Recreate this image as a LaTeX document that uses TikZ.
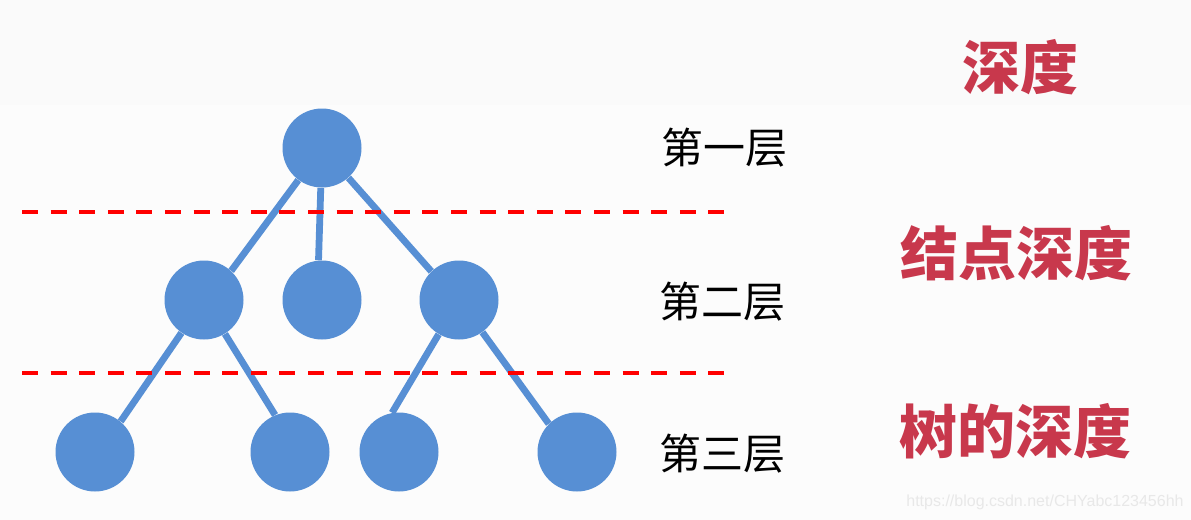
\documentclass[tikz,border=0pt]{standalone}
\usepackage{fontspec}
\usepackage{xcolor}
\usepackage{tikz}
\usetikzlibrary{positioning}
\setsansfont{Liberation Sans}
\newfontfamily\cjk{Noto Sans CJK SC}
\definecolor{NodeBlue}{HTML}{578FD4}
\definecolor{DepthRed}{HTML}{C8384C}
\definecolor{PageLight}{HTML}{FCFCFC}
\definecolor{PageTop}{HTML}{FAFAFA}

\begin{document}
\begin{tikzpicture}[
  x=0.5pt, y=-0.5pt,
  vertex/.style={circle,fill=NodeBlue,minimum size=39.5pt,inner sep=0pt},
  edge/.style={draw=NodeBlue,line width=3.4pt},
  level/.style={font=\cjk\fontsize{21}{21}\selectfont,inner sep=0pt},
  tag/.style={font=\cjk\bfseries\fontsize{29}{29}\selectfont,text=DepthRed,inner sep=0pt},
  cut/.style={draw=red,line width=2pt,dash pattern=on 8pt off 6.3pt}
]
  % page
  \fill[PageLight] (0,0) rectangle (1191,520);
  \fill[PageTop] (0,0) rectangle (1191,105);
  \useasboundingbox (0,0) rectangle (1191,520);

  % tree
  \node[vertex] (root) at (322,148) {};
  \node[vertex] (left) at (204,300) {};
  \node[vertex] (mid) at (322,300) {};
  \node[vertex] (right) at (459,300) {};
  \node[vertex] (ll) at (95,452) {};
  \node[vertex] (lr) at (290,452) {};
  \node[vertex] (rl) at (399,452) {};
  \node[vertex] (rr) at (577,452) {};
  \draw[edge] (root) -- (left.47);
  \draw[edge] (root) -- (mid.95);
  \draw[edge] (root) -- (right.134);
  \draw[edge] (left) -- (ll.50);
  \draw[edge] (left) -- (lr.112);
  \draw[edge] (right) -- (rl.100);
  \draw[edge] (right) -- (rr.135);

  % level borders
  \coordinate (cutA) at (22,212);
  \coordinate (cutB) at (724,212);
  \coordinate (cutC) at (22,373);
  \coordinate (cutD) at (724,373);
  \draw[cut] (cutA) -- (cutB);
  \draw[cut] (cutC) -- (cutD);

  % labels
  \node[level] (lv1) at (724,148) {第一层};
  \node[level] (lv2) at (722,302) {第二层};
  \node[level] (lv3) at (722,454) {第三层};
  \node[tag] (depth) at (1020,67) {深度};
  \node[tag] (nodedepth) at (1016,253) {结点深度};
  \node[tag] (treedepth) at (1015,431) {树的深度};
  \node[font=\sffamily\fontsize{8}{8}\selectfont,text=black!9,anchor=east,inner sep=0pt] (mark) at (1184,502) {https://blog.csdn.net/CHYabc123456hh};
\end{tikzpicture}
\end{document}
